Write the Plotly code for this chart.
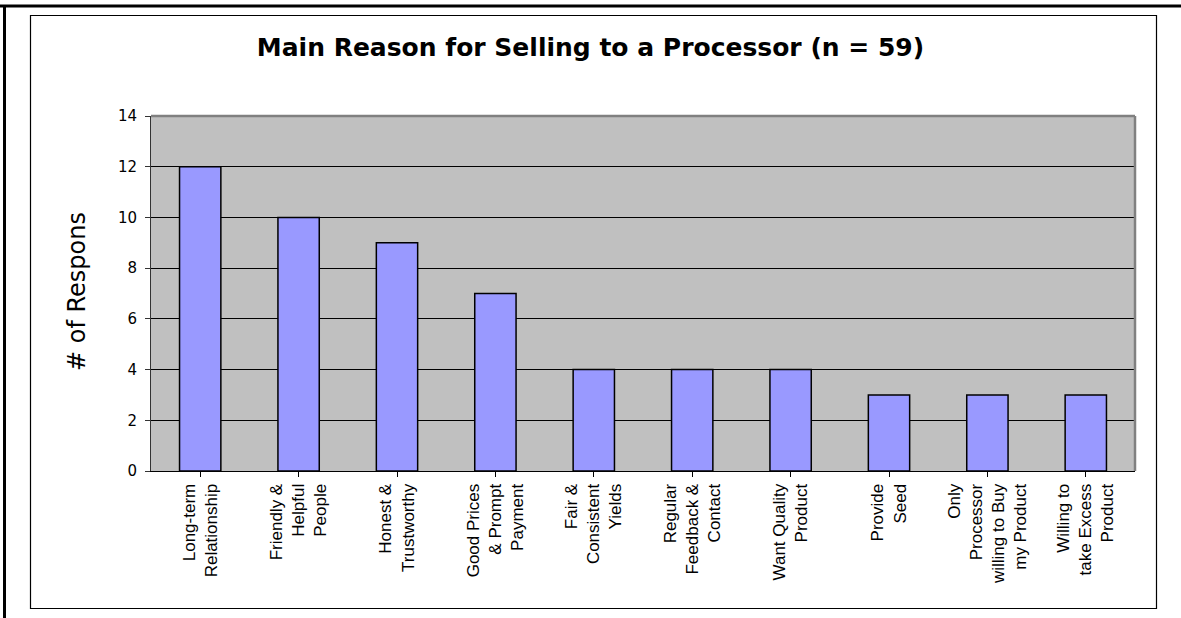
import plotly.graph_objects as go

# Survey results: main reason farmers sell to a processor
reasons = [
    "Long-term<br>Relationship",
    "Friendly &<br>Helpful<br>People",
    "Honest &<br>Trustworthy",
    "Good Prices<br>& Prompt<br>Payment",
    "Fair &<br>Consistent<br>Yields",
    "Regular<br>Feedback &<br>Contact",
    "Want Quality<br>Product",
    "Provide<br>Seed",
    "Only<br>Processor<br>willing to Buy<br>my Product",
    "Willing to<br>take Excess<br>Product",
]
responses = [12, 10, 9, 7, 4, 4, 4, 3, 3, 3]
y_ticks = [0, 2, 4, 6, 8, 10, 12, 14]

W, H = 1181, 618
L, R, T, B = 151, 46, 116, 147
PW, PH = W - L - R, H - T - B


def px(x):
    return (x - L) / PW


def py(y):
    return (H - B - y) / PH


fig = go.Figure(
    go.Bar(
        x=list(range(len(reasons))),
        y=responses,
        marker=dict(color="#9999FF", line=dict(color="black", width=1.5)),
        width=0.42,
    )
)

shapes = [
    # outer frame (top and left edges)
    dict(type="line", xref="paper", yref="paper", x0=px(0), x1=px(W), y0=py(6), y1=py(6),
         line=dict(color="black", width=3)),
    dict(type="line", xref="paper", yref="paper", x0=px(4.5), x1=px(4.5), y0=py(6), y1=py(H),
         line=dict(color="black", width=3)),
    # inner chart frame
    dict(type="rect", xref="paper", yref="paper", x0=px(30.5), x1=px(1156.5), y0=py(15.5), y1=py(608.5),
         line=dict(color="black", width=1.2)),
    # plot area border (top and right)
    dict(type="line", xref="paper", yref="paper", x0=0, x1=1, y0=1, y1=1,
         line=dict(color="#808080", width=2.5)),
    dict(type="line", xref="paper", yref="paper", x0=1, x1=1, y0=0, y1=1,
         line=dict(color="#808080", width=2.5)),
]

fig.update_layout(
    width=W,
    height=H,
    margin=dict(l=L, r=R, t=T, b=B),
    paper_bgcolor="white",
    plot_bgcolor="#C0C0C0",
    showlegend=False,
    bargap=0.58,
    shapes=shapes,
    title=dict(
        text="<b>Main Reason for Selling to a Processor (n = 59)</b>",
        x=0.5, xanchor="center", xref="container",
        y=1 - 47 / H, yanchor="middle", yref="container",
        font=dict(family="DejaVu Sans, Verdana, sans-serif", size=25, color="black"),
    ),
    annotations=[
        dict(
            text="# of Respons", textangle=-90,
            xref="paper", yref="paper", x=px(77), y=py(292),
            xanchor="center", yanchor="middle", showarrow=False,
            font=dict(family="DejaVu Sans, Verdana, sans-serif", size=24, color="black"),
        )
    ],
)

fig.update_xaxes(
    tickmode="array",
    tickvals=list(range(len(reasons))),
    ticktext=reasons,
    tickangle=-90,
    tickson="boundaries",
    ticks="outside",
    ticklen=5,
    tickcolor="black",
    showline=True,
    linecolor="black",
    linewidth=1,
    showgrid=False,
    range=[-0.5, len(reasons) - 0.5],
    tickfont=dict(family="Liberation Sans Narrow, Arial Narrow, Liberation Sans, sans-serif",
                  size=17, color="black"),
)

fig.update_yaxes(
    range=[0, 14],
    tickmode="array",
    tickvals=y_ticks,
    ticks="outside",
    ticklen=5,
    tickcolor="#333333",
    ticklabelstandoff=5,
    showline=True,
    linecolor="#333333",
    linewidth=1,
    showgrid=True,
    gridcolor="black",
    gridwidth=1,
    zeroline=False,
    tickfont=dict(family="DejaVu Sans, Verdana, sans-serif", size=15, color="black"),
)

fig.write_html("out.html")
